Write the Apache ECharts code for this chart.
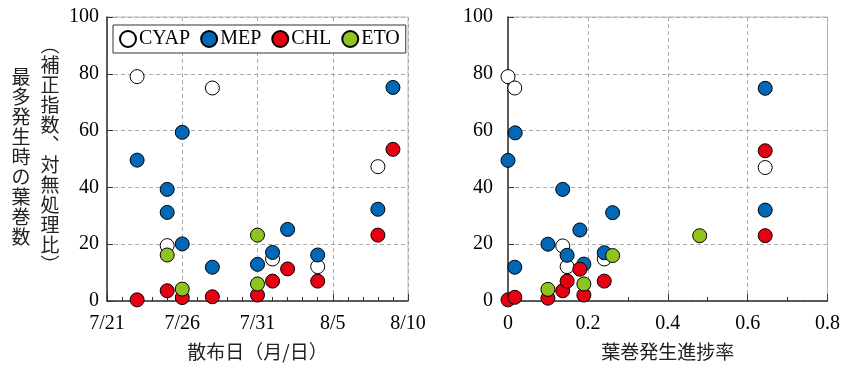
<!DOCTYPE html>
<html>
<head>
<meta charset="utf-8">
<script src="https://cdn.jsdelivr.net/npm/echarts@6/dist/echarts.min.js"></script>
<style>
html,body{margin:0;padding:0;background:#fff;}
#chart{width:843px;height:366px;}
</style>
</head>
<body>
<div id="chart"></div>
<script>
// ---- data ----
var seriesNames = ['CYAP', 'MEP', 'CHL', 'ETO'];
var seriesColors = ['#ffffff', '#0068b7', '#e60012', '#8fc31f'];

// left panel: spray date (M/D) vs value
var cyapDates = ['7/23', '7/25', '7/28', '8/1', '8/4', '8/8'];
var cyapVals  = [79, 19.5, 75, 14.8, 12.1, 47.3];
var mepDates  = ['7/23', '7/25', '7/25', '7/26', '7/26', '7/28', '7/31', '8/1', '8/2', '8/4', '8/8', '8/9'];
var mepVals   = [49.6, 39.3, 31.2, 59.4, 20.1, 11.9, 12.9, 17.1, 25.2, 16.2, 32.3, 75.2];
var chlDates  = ['7/23', '7/25', '7/26', '7/28', '7/31', '8/1', '8/2', '8/4', '8/8', '8/9'];
var chlVals   = [0.4, 3.6, 1.2, 1.5, 2.1, 7.0, 11.3, 7.0, 23.2, 53.4];
var etoDates  = ['7/25', '7/26', '7/31', '7/31'];
var etoVals   = [16.2, 4.2, 23.2, 6.0];

// right panel: progress rate vs value
var cyapRate = [0, 0.017, 0.137, 0.148, 0.241, 0.644];
var cyapRVal = [79, 75, 19.4, 12.1, 14.8, 47];
var mepRate  = [0, 0.018, 0.017, 0.137, 0.262, 0.18, 0.1, 0.148, 0.19, 0.241, 0.644, 0.644];
var mepRVal  = [49.5, 59.2, 11.9, 39.3, 31.1, 25, 20, 16.1, 13, 17, 32, 74.9];
var chlRate  = [0, 0.017, 0.1, 0.137, 0.148, 0.18, 0.19, 0.241, 0.644, 0.644];
var chlRVal  = [0.4, 1.3, 1.0, 3.6, 7, 11.2, 2.1, 7, 52.9, 23];
var etoRate  = [0.1, 0.19, 0.262, 0.48];
var etoRVal  = [4.1, 6, 16, 23];

var dateTicks = ['7/21', '7/26', '7/31', '8/5', '8/10'];
var yTicks = [0, 20, 40, 60, 80, 100];
var rateTicks = [0, 0.2, 0.4, 0.6, 0.8];

var yTitleOuter = '最多発生時の葉巻数';
var yTitleInner = '︵補正指数︑対無処理比︶';
var xTitleLeft = '散布日（月/日）';
var xTitleRight = '葉巻発生進捗率';

// ---- helpers ----
function dayNum(s) { var p = s.split('/'); var m = +p[0], d = +p[1]; return m === 7 ? d - 1 : 30 + d; }
function dayLabel(n) { return n <= 30 ? '7/' + (n + 1) : '8/' + (n - 30); }
function zip(xs, ys) { return xs.map(function (x, i) { return [x, ys[i]]; }); }

var serif = 'Liberation Serif';
var jp = 'Noto Sans CJK JP';
var axisDark = '#333';
var gridDash = { color: '#aaa', width: 1, type: [4, 3] };

function yAxisCfg(gridIndex, margin) {
  return {
    type: 'value', gridIndex: gridIndex, min: yTicks[0], max: yTicks[yTicks.length - 1], interval: 20,
    axisLine: { show: true, lineStyle: { color: axisDark, width: 1.5 } },
    axisTick: { show: true, inside: true, length: 6, lineStyle: { color: axisDark } },
    axisLabel: { color: '#000', fontFamily: serif, fontSize: 20, margin: margin },
    splitLine: { show: true, lineStyle: gridDash }
  };
}

var leftData = [zip(cyapDates.map(dayNum), cyapVals), zip(mepDates.map(dayNum), mepVals),
                zip(chlDates.map(dayNum), chlVals), zip(etoDates.map(dayNum), etoVals)];
var rightData = [zip(cyapRate, cyapRVal), zip(mepRate, mepRVal), zip(chlRate, chlRVal), zip(etoRate, etoRVal)];

var series = [];
[leftData, rightData].forEach(function (set, gi) {
  set.forEach(function (d, i) {
    series.push({
      name: seriesNames[i], type: 'scatter', xAxisIndex: gi, yAxisIndex: gi,
      data: d, symbol: 'circle', symbolSize: 14, clip: false,
      itemStyle: { color: seriesColors[i], borderColor: '#000', borderWidth: 1, opacity: 1 },
      emphasis: { disabled: true }, z: 3 + i
    });
  });
});

var chart = echarts.init(document.getElementById('chart'), null, { renderer: 'canvas' });
chart.setOption({
  animation: false,
  backgroundColor: '#fff',
  grid: [
    { left: 107, top: 17, width: 301, height: 284, show: true, borderColor: '#bbb', borderWidth: 1 },
    { left: 508, top: 17, width: 321, height: 284, show: true, borderColor: '#bbb', borderWidth: 1 }
  ],
  legend: {
    data: seriesNames, left: 113, top: 25, orient: 'horizontal',
    icon: 'circle', itemWidth: 16, itemHeight: 16, itemGap: 10,
    padding: [4, 6], borderColor: '#333', borderWidth: 1, backgroundColor: '#fff',
    textStyle: { fontFamily: serif, fontSize: 20, color: '#000', padding: [0, 0, 0, -2] },
    selectedMode: false
  },
  xAxis: [
    {
      type: 'value', gridIndex: 0, min: dayNum(dateTicks[0]), max: dayNum(dateTicks[dateTicks.length - 1]), interval: 5,
      axisLine: { show: true, onZero: false, lineStyle: { color: axisDark, width: 1.5 } },
      axisTick: { show: true, inside: true, length: 7, lineStyle: { color: axisDark } },
      minorTick: { show: true, splitNumber: 5, length: 4, lineStyle: { color: axisDark } },
      axisLabel: { color: '#000', fontFamily: serif, fontSize: 20, margin: 13, formatter: function (v) { return dayLabel(v); } },
      splitLine: { show: true, lineStyle: gridDash },
      name: xTitleLeft, nameLocation: 'middle', nameGap: 41,
      nameTextStyle: { fontFamily: jp, fontSize: 19, color: '#222' }
    },
    {
      type: 'value', gridIndex: 1, min: rateTicks[0], max: rateTicks[rateTicks.length - 1], interval: 0.2,
      axisLine: { show: true, onZero: false, lineStyle: { color: axisDark, width: 1.5 } },
      axisTick: { show: true, inside: true, length: 7, lineStyle: { color: axisDark } },
      minorTick: { show: true, splitNumber: 2, length: 4, lineStyle: { color: axisDark } },
      axisLabel: { color: '#000', fontFamily: serif, fontSize: 20, margin: 13, formatter: function (v) { return String(+v.toFixed(1)); } },
      splitLine: { show: true, lineStyle: gridDash },
      name: xTitleRight, nameLocation: 'middle', nameGap: 41,
      nameTextStyle: { fontFamily: jp, fontSize: 19, color: '#222' }
    }
  ],
  yAxis: [yAxisCfg(0, 8), yAxisCfg(1, 15)],
  graphic: [
    { type: 'text', left: null, x: 21, y: 67, style: { text: yTitleOuter.split('').join('\n'), fontFamily: jp, fontSize: 19, lineHeight: 20, align: 'center', verticalAlign: 'top', fill: '#222' } },
    { type: 'text', x: 50, y: 35, style: { text: yTitleInner.split('').join('\n'), fontFamily: jp, fontSize: 19, lineHeight: 20, align: 'center', verticalAlign: 'top', fill: '#222' } }
  ],
  series: series
});
</script>
</body>
</html>
